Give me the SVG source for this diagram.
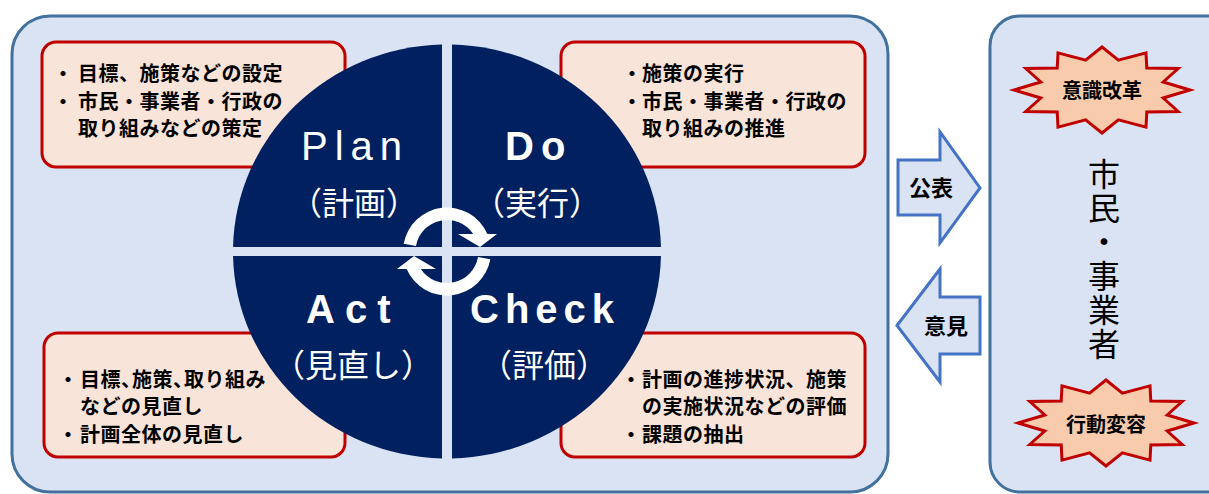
<svg xmlns="http://www.w3.org/2000/svg" width="1209" height="494" viewBox="0 0 1209 494">
<style>
.panel{fill:#dae3f3;stroke:#41719c;stroke-width:3}
.box{fill:#f8e4d8;stroke:#c00000;stroke-width:3}
.bt{font-family:"Noto Sans CJK JP","Noto Sans CJK SC",sans-serif;font-size:20px;font-weight:bold;fill:#000;letter-spacing:0.5px}
.q{fill:#002060}
.en{font-family:"Liberation Sans",Arial,sans-serif;font-size:40px;fill:#fff}
.jp{font-family:"Noto Sans CJK JP","Noto Sans CJK SC",sans-serif;font-size:32px;fill:#fff;text-anchor:middle}
.star{fill:#f8cbad;stroke:#c00000;stroke-width:3}
.blk{fill:#dae3f3;stroke:#4472c4;stroke-width:3}
.cyc{fill:#fff}
.lbl{font-family:"Noto Sans CJK JP","Noto Sans CJK SC",sans-serif;font-weight:bold;fill:#000;text-anchor:middle}
.vt{font-family:"Noto Sans CJK JP","Noto Sans CJK SC",sans-serif;font-size:32px;fill:#000;writing-mode:vertical-rl;letter-spacing:2px}
</style>
<defs>
<polygon id="star12" points="88,0 61.2,-8 76.2,-21.5 44.8,-21.9 44,-37.2 16.4,-29.9 0,-43 -16.4,-29.9 -44,-37.2 -44.8,-21.9 -76.2,-21.5 -61.2,-8 -88,0 -61.2,8 -76.2,21.5 -44.8,21.9 -44,37.2 -16.4,29.9 0,43 16.4,29.9 44,37.2 44.8,21.9 76.2,21.5 61.2,8"/>
</defs>

<g id="main-panel">
<rect class="panel" x="12" y="16" width="876" height="476" rx="38"/>
</g>
<g id="citizens-panel">
<rect class="panel" x="990" y="16" width="250" height="476" rx="30"/>
<text class="vt" x="1104" y="158">市民・事業者</text>
</g>

<g id="plan-box">
<rect class="box" x="42" y="42" width="303" height="125" rx="14"/>
<text class="bt" x="53" y="81">・</text><text class="bt" x="78" y="81">目標、施策などの設定</text>
<text class="bt" x="53" y="109">・</text><text class="bt" x="78" y="109">市民・事業者・行政の</text>
<text class="bt" x="78" y="136">取り組みなどの策定</text>
</g>
<g id="do-box">
<rect class="box" x="561" y="42" width="304" height="125" rx="14"/>
<text class="bt" x="622" y="81">・</text><text class="bt" x="642" y="81">施策の実行</text>
<text class="bt" x="622" y="109">・</text><text class="bt" x="642" y="109">市民・事業者・行政の</text>
<text class="bt" x="642" y="136">取り組みの推進</text>
</g>
<g id="act-box">
<rect class="box" x="44" y="333" width="301" height="124" rx="14"/>
<text class="bt" x="58" y="387">・</text><text class="bt" x="80" y="387">目標<tspan letter-spacing="-9">、</tspan>施策<tspan letter-spacing="-9">、</tspan>取り組み</text>
<text class="bt" x="80" y="414">などの見直し</text>
<text class="bt" x="58" y="442">・</text><text class="bt" x="80" y="442">計画全体の見直し</text>
</g>
<g id="check-box">
<rect class="box" x="561" y="333" width="304" height="124" rx="14"/>
<text class="bt" x="621" y="387">・</text><text class="bt" x="642" y="387">計画の進捗状況、施策</text>
<text class="bt" x="642" y="414">の実施状況などの評価</text>
<text class="bt" x="621" y="442">・</text><text class="bt" x="642" y="442">課題の抽出</text>
</g>

<g id="plan">
<path class="q" d="M442,247 V44.56 A214,207 0 0 0 233.05,247 Z"/>
<text class="en" x="301" y="160" letter-spacing="7">Plan</text>
<text class="jp" x="354" y="215">（計画）</text>
</g>
<g id="do">
<path class="q" d="M452,247 V44.56 A214,207 0 0 1 660.95,247 Z"/>
<text class="en" x="505" y="160" font-weight="bold" letter-spacing="7">Do</text>
<text class="jp" x="537" y="215">（実行）</text>
</g>
<g id="act">
<path class="q" d="M442,256 V458.44 A214,207 0 0 1 233.05,256 Z"/>
<text class="en" x="306" y="323" font-weight="bold" letter-spacing="10">Act</text>
<text class="jp" x="353" y="377" font-size="33">（見直し）</text>
</g>
<g id="check">
<path class="q" d="M452,256 V458.44 A214,207 0 0 0 660.95,256 Z"/>
<text class="en" x="470" y="323" font-weight="bold" letter-spacing="6">Check</text>
<text class="jp" x="544" y="377">（評価）</text>
</g>

<g id="star-awareness">
<use href="#star12" class="star" transform="translate(1102,90)"/>
<text class="lbl" x="1102" y="98" font-size="20">意識改革</text>
</g>
<g id="star-behavior">
<use href="#star12" class="star" transform="translate(1106,423)"/>
<text class="lbl" x="1106" y="432" font-size="20">行動変容</text>
</g>

<g id="connectors">
<path class="cyc" d="M403.67,243.86 A44,44 0 0 1 487.37,234 L497,234 L480,247 L458,234 L473.19,234 A31.5,31.5 0 0 0 415.98,246.03 Z"/>
<path class="cyc" d="M490.33,259.14 A44,44 0 0 1 406.63,269 L397,269 L414,256 L436,269 L420.81,269 A31.5,31.5 0 0 0 478.02,256.97 Z"/>
<g id="publish-arrow">
<polygon class="blk" points="898,160 940,160 940,132 980,188 940,243 940,215 898,215"/>
<text class="lbl" x="931" y="196" font-size="22" font-weight="500">公表</text>
</g>
<g id="opinion-arrow">
<polygon class="blk" points="897,325.5 940,269 940,297 980,297 980,354 940,354 940,382"/>
<text class="lbl" x="946" y="334" font-size="22" font-weight="500">意見</text>
</g>
</g>
</svg>
